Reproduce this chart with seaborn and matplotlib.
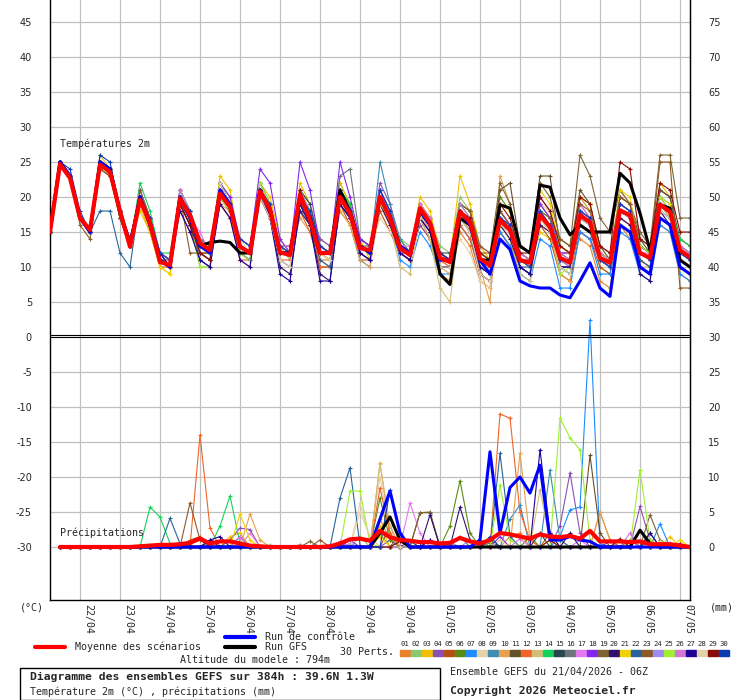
import matplotlib
matplotlib.use("Agg")
import matplotlib.pyplot as plt
from matplotlib.patches import Rectangle
from matplotlib.lines import Line2D
import matplotlib.transforms as mtransforms
import pandas as pd
import seaborn as sns

# 6-hourly steps from 21/04/2026 06Z up to +384h
steps = list(range(65))
p_steps = list(range(1, 65))
day_steps = [3, 7, 11, 15, 19, 23, 27, 31, 35, 39, 43, 47, 51, 55, 59, 63]
day_labels = ["22/04", "23/04", "24/04", "25/04", "26/04", "27/04", "28/04", "29/04",
              "30/04", "01/05", "02/05", "03/05", "04/05", "05/05", "06/05", "07/05"]

member_names = [f"{k:02d}" for k in range(1, 31)]
member_colors = ["#E8822E", "#8CC86E", "#F0C000", "#8C50B4", "#B45014", "#5A8C14",
                 "#1E8CFF", "#E6D2AA", "#3C8CB4", "#E6A050", "#645028", "#F06428",
                 "#D2BE78", "#14D25A", "#284650", "#6E7378", "#E678F0", "#8228F0",
                 "#7D6432", "#32106E", "#F0D200", "#28649B", "#8C5A28", "#A08CF0",
                 "#A0F032", "#D278D2", "#1E0096", "#E1D2AA", "#8C0A0A", "#0A3CB4"]

# 2m temperature (degC)
t_mean = [15, 24.7, 22.7, 17, 15.3, 24.6, 23.6, 18, 12.9, 19.6, 16.3, 10.7, 10.3,
          19.8, 17.4, 13.4, 12.4, 20.5, 18.6, 12.9, 12, 20.8, 18.2, 12.1, 11.7,
          20.3, 16.7, 12, 12, 20, 17.7, 12.7, 12.4, 20, 17, 12.7, 11.7, 18.4, 16.3,
          11.3, 10.7, 17.9, 16.4, 11.2, 10.2, 16.7, 15.3, 11, 10.6, 17.4, 15.7, 11.3,
          10.6, 17.4, 16.4, 11.3, 10.6, 18.1, 17.4, 12, 11.3, 18.9, 17.9, 12.4, 11.4]
t_control = [15, 25, 23, 17, 15, 25, 24, 18, 13, 20, 16, 11, 10, 20, 17, 13, 12,
             21, 19, 13, 12, 21, 18, 12, 12, 20, 17, 12, 12, 20, 18, 13, 12, 20, 17,
             13, 12, 18, 16, 11, 11, 18, 16, 11, 9, 14, 12.5, 8, 7.3, 7, 7, 6, 5.6,
             8, 10.6, 7, 5.8, 16, 15, 10, 9, 17, 16, 10, 9]
t_gfs = [15, 25, 23, 17, 15, 25, 24, 18, 13, 20, 16, 11, 10, 20, 17, 13, 13.5,
         13.7, 13.5, 12, 12, 21, 18, 12, 12, 20, 17, 12, 12, 21, 18, 13, 12, 20, 17,
         13, 12, 18, 16, 9, 7.5, 17, 16, 11, 11, 18.9, 18.4, 13, 12, 21.7, 21.4, 17,
         14.6, 16, 15, 15, 15, 23.4, 22, 17.7, 12.4, 18.9, 18.4, 11, 10]

t01 = [15, 25, 23, 17, 15, 25, 24, 17, 13, 19, 15, 11, 10, 19, 16, 12, 11, 20, 18, 13, 12,
       20, 17, 11, 10, 19, 16, 11, 11, 18, 16, 12, 11, 19, 16, 12, 11, 16, 14, 9, 8,
       15, 13, 8, 7, 15, 13, 10, 9, 19, 17, 13, 12, 14, 13, 8, 7, 16, 14, 11, 10, 16, 15, 9, 8]
t02 = [15, 25, 23, 17, 15, 24, 23, 17, 13, 21, 17, 12, 11, 19, 16, 10, 10, 22, 20, 12, 12,
       22, 19, 13, 11, 21, 19, 14, 13, 22, 19, 13, 12, 19, 17, 14, 13, 19, 17, 13, 12,
       20, 18, 12, 11, 15, 13, 12, 11, 19, 17, 10, 9, 20, 18, 12, 11, 16, 15, 14, 13, 21, 20, 13, 12]
t03 = [15, 25, 23, 17, 15, 26, 24, 18, 13, 18, 15, 10, 9, 21, 18, 12, 12, 23, 21, 13, 12,
       22, 20, 14, 12, 22, 19, 12, 12, 22, 19, 14, 11, 21, 18, 14, 12, 20, 18, 12, 11,
       23, 19, 13, 11, 18, 16, 11, 10, 15, 14, 12, 11, 18, 17, 10, 9, 21, 19, 13, 12, 22, 20, 13, 12]
t04 = [15, 25, 23, 17, 15, 25, 24, 18, 13, 21, 17, 11, 10, 21, 18, 14, 13, 21, 19, 14, 13,
       22, 19, 13, 13, 21, 18, 14, 13, 19, 17, 14, 13, 22, 19, 13, 12, 16, 14, 11, 11,
       19, 17, 12, 11, 17, 16, 10, 9, 20, 18, 12, 12, 15, 14, 11, 11, 20, 19, 13, 12, 21, 20, 13, 12]
t05 = [15, 25, 23, 17, 15, 24, 23, 17, 13, 20, 16, 11, 11, 18, 15, 12, 12, 19, 17, 13, 12,
       21, 18, 12, 12, 19, 16, 10, 10, 19, 16, 11, 11, 18, 15, 12, 12, 17, 14, 10, 10,
       16, 14, 9, 8, 15, 13, 11, 10, 16, 14, 9, 8, 15, 14, 10, 9, 16, 15, 11, 10, 17, 16, 10, 9]
t06 = [15, 25, 23, 17, 15, 25, 24, 18, 13, 20, 17, 12, 11, 21, 18, 14, 13, 22, 19, 14, 13,
       20, 18, 13, 13, 19, 17, 12, 12, 21, 19, 13, 12, 20, 17, 14, 12, 19, 17, 12, 11,
       17, 16, 12, 11, 20, 18, 13, 12, 17, 16, 13, 12, 18, 17, 12, 11, 19, 18, 14, 13, 18, 17, 13, 12]
t07 = [15, 25, 23, 17, 15, 25, 24, 18, 14, 20, 16, 11, 10, 21, 18, 13, 12, 21, 19, 12, 11,
       21, 18, 11, 10, 18, 17, 13, 12, 21, 18, 11, 10, 21, 17, 11, 10, 15, 13, 9, 9,
       16, 14, 10, 9, 15, 13, 9, 8, 14, 13, 7, 7, 15, 14, 9, 9, 15, 14, 9, 8, 16, 15, 9, 8]
t08 = [15, 25, 23, 17, 15, 25, 24, 18, 13, 19, 16, 11, 10, 20, 17, 13, 12, 19, 17, 13, 12,
       20, 17, 12, 12, 18, 16, 13, 12, 18, 16, 13, 12, 17, 15, 13, 12, 17, 15, 11, 10,
       14, 12, 8, 7, 16, 14, 12, 11, 19, 18, 13, 12, 17, 16, 12, 11, 21, 19, 14, 13, 18, 17, 12, 12]
t09 = [15, 25, 23, 17, 15, 25, 24, 18, 13, 21, 17, 12, 10, 19, 17, 13, 12, 21, 19, 13, 12,
       20, 17, 12, 12, 20, 17, 12, 11, 21, 18, 13, 12, 25, 19, 14, 12, 18, 16, 12, 11,
       18, 16, 10, 9, 17, 16, 10, 9, 17, 15, 11, 10, 18, 16, 11, 10, 18, 17, 12, 11, 19, 17, 11, 10]
t10 = [15, 25, 23, 17, 15, 25, 24, 18, 13, 19, 15, 11, 10, 20, 17, 12, 11, 19, 18, 11, 10,
       20, 17, 12, 12, 17, 15, 11, 10, 18, 16, 11, 10, 19, 17, 12, 11, 18, 15, 10, 9,
       18, 15, 10, 5, 23, 19, 12, 11, 16, 15, 9, 8, 20, 18, 12, 11, 16, 15, 11, 10, 17, 16, 10, 9]
t11 = [15, 25, 23, 17, 15, 25, 24, 18, 14, 20, 17, 12, 11, 21, 18, 14, 13, 21, 19, 13, 12,
       22, 19, 13, 12, 20, 18, 13, 12, 20, 18, 13, 13, 21, 18, 13, 12, 19, 17, 12, 11,
       19, 18, 12, 11, 21, 22, 13, 12, 23, 23, 13, 12, 21, 19, 13, 11, 20, 19, 14, 12, 21, 20, 14, 13]
t12 = [15, 25, 23, 17, 15, 25, 23, 17, 13, 19, 15, 10, 10, 19, 16, 12, 11, 19, 17, 11, 11,
       20, 17, 11, 11, 18, 15, 10, 10, 20, 17, 13, 12, 19, 16, 12, 11, 18, 16, 11, 10,
       16, 14, 10, 9, 17, 15, 11, 10, 18, 16, 10, 10, 16, 15, 11, 10, 17, 16, 12, 11, 19, 17, 11, 10]
t13 = [15, 25, 23, 17, 15, 25, 24, 17, 13, 20, 16, 11, 10, 20, 17, 13, 12, 22, 20, 13, 12,
       21, 18, 12, 12, 21, 18, 13, 12, 20, 17, 12, 11, 19, 16, 10, 9, 17, 14, 7, 5,
       17, 15, 10, 9, 16, 14, 9, 8, 17, 15, 10, 9, 17, 16, 12, 11, 18, 17, 10, 10, 19, 17, 11, 10]
t14 = [15, 25, 23, 17, 15, 25, 24, 18, 13, 22, 18, 12, 12, 20, 17, 13, 12, 21, 19, 13, 12,
       20, 18, 13, 12, 20, 17, 13, 12, 21, 19, 13, 12, 20, 17, 13, 12, 18, 16, 12, 11,
       18, 16, 12, 11, 17, 16, 13, 12, 18, 17, 11, 11, 17, 16, 12, 11, 19, 18, 13, 12, 20, 19, 14, 13]
t15 = [15, 25, 23, 17, 15, 25, 24, 18, 13, 20, 16, 11, 10, 19, 16, 13, 12, 21, 19, 13, 12,
       21, 18, 13, 12, 21, 19, 13, 12, 20, 18, 14, 13, 20, 17, 13, 12, 17, 16, 12, 12,
       17, 16, 11, 10, 17, 15, 11, 11, 17, 16, 12, 11, 18, 17, 12, 11, 18, 17, 12, 11, 19, 18, 12, 11]
t16 = [15, 25, 23, 17, 15, 25, 24, 18, 13, 20, 16, 11, 10, 20, 17, 13, 12, 20, 18, 13, 12,
       22, 19, 12, 12, 20, 17, 12, 12, 23, 24, 14, 13, 20, 17, 13, 12, 18, 16, 11, 11,
       18, 16, 11, 10, 18, 16, 12, 11, 17, 16, 11, 11, 19, 17, 12, 11, 18, 17, 13, 12, 19, 18, 13, 12]
t17 = [15, 25, 23, 17, 15, 25, 24, 18, 13, 21, 17, 12, 11, 20, 17, 15, 12, 21, 18, 13, 12,
       21, 19, 13, 13, 20, 17, 12, 12, 20, 18, 13, 12, 21, 18, 13, 13, 19, 17, 12, 11,
       18, 16, 13, 12, 17, 15, 12, 11, 17, 16, 11, 11, 19, 17, 12, 11, 18, 17, 12, 12, 19, 18, 13, 12]
t18 = [15, 25, 23, 17, 15, 25, 24, 18, 13, 20, 17, 12, 11, 21, 18, 13, 12, 22, 20, 14, 13,
       24, 22, 14, 12, 25, 21, 13, 12, 25, 20, 14, 13, 21, 18, 13, 12, 19, 16, 12, 11,
       18, 16, 11, 11, 18, 16, 12, 11, 19, 17, 12, 12, 18, 17, 12, 11, 19, 18, 13, 12, 20, 18, 12, 11]
t19 = [15, 25, 23, 17, 15, 25, 24, 17, 13, 20, 16, 11, 10, 20, 17, 13, 12, 21, 19, 13, 12,
       21, 18, 12, 12, 20, 17, 12, 11, 20, 18, 13, 12, 20, 17, 12, 11, 19, 17, 12, 11,
       19, 18, 13, 12, 22, 19, 13, 12, 22, 20, 14, 13, 26, 23, 17, 15, 21, 19, 15, 13, 26, 26, 17, 17]
t20 = [15, 25, 23, 17, 15, 25, 24, 17, 13, 20, 16, 11, 10, 19, 16, 11, 10, 20, 18, 12, 11,
       20, 17, 10, 9, 18, 16, 9, 8, 19, 17, 12, 11, 19, 16, 12, 11, 17, 15, 10, 10,
       17, 15, 9, 8, 16, 14, 10, 9, 16, 15, 10, 10, 17, 16, 11, 10, 17, 16, 9, 8, 18, 16, 10, 9]
t21 = [15, 25, 23, 17, 15, 25, 24, 18, 13, 19, 15, 10, 9, 21, 18, 13, 12, 21, 19, 13, 12,
       21, 18, 12, 12, 21, 18, 12, 11, 20, 18, 13, 12, 20, 17, 13, 12, 19, 17, 11, 11,
       19, 17, 12, 11, 19, 18, 12, 11, 21, 19, 13, 12, 20, 19, 12, 11, 21, 20, 12, 11, 20, 19, 11, 10]
t22 = [15, 25, 23, 17, 15, 18, 18, 12, 10, 20, 16, 11, 10, 20, 17, 12, 11, 22, 19, 13, 12,
       21, 18, 12, 12, 19, 16, 11, 10, 20, 17, 13, 12, 20, 17, 13, 12, 18, 16, 12, 11,
       18, 16, 10, 9, 17, 15, 10, 10, 17, 16, 10, 9, 16, 15, 11, 10, 18, 17, 11, 10, 18, 17, 12, 11]
t23 = [15, 25, 23, 16, 14, 24, 23, 17, 13, 21, 17, 12, 10, 20, 12, 12, 12, 20, 18, 13, 12,
       21, 18, 12, 12, 20, 17, 12, 12, 20, 17, 13, 12, 20, 17, 13, 12, 18, 16, 12, 11,
       19, 18, 12, 12, 18, 16, 12, 11, 18, 17, 14, 13, 19, 18, 13, 12, 20, 19, 13, 12, 25, 25, 7, 7]
t24 = [15, 25, 23, 17, 15, 25, 24, 18, 13, 20, 16, 11, 10, 21, 18, 13, 12, 21, 19, 14, 13,
       22, 19, 13, 12, 21, 18, 13, 12, 21, 18, 13, 12, 20, 17, 13, 12, 18, 16, 11, 11,
       19, 17, 12, 11, 17, 16, 12, 11, 18, 16, 11, 10, 18, 17, 11, 11, 18, 17, 12, 11, 20, 18, 12, 12]
t25 = [15, 25, 23, 17, 15, 25, 24, 18, 13, 20, 16, 11, 10, 20, 17, 10, 10, 20, 18, 12, 11,
       22, 19, 12, 12, 20, 17, 12, 12, 20, 18, 13, 12, 19, 17, 13, 12, 18, 16, 12, 11,
       18, 16, 12, 11, 16, 15, 11, 10, 17, 16, 9, 10, 17, 16, 12, 11, 18, 17, 13, 12, 20, 18, 12, 11]
t26 = [15, 25, 23, 17, 15, 25, 24, 18, 13, 20, 17, 12, 11, 21, 17, 14, 12, 21, 19, 14, 13,
       21, 18, 13, 13, 20, 18, 12, 12, 21, 18, 13, 12, 20, 18, 12, 12, 19, 17, 12, 11,
       18, 16, 11, 11, 17, 16, 12, 11, 17, 16, 12, 11, 18, 17, 12, 11, 19, 18, 12, 11, 19, 18, 12, 11]
t27 = [15, 25, 23, 17, 15, 25, 24, 18, 14, 20, 16, 12, 10, 18, 15, 11, 10, 19, 17, 11, 10,
       21, 17, 9, 8, 19, 16, 8, 8, 19, 17, 12, 11, 20, 17, 12, 11, 17, 15, 10, 10,
       18, 16, 10, 9, 16, 15, 10, 9, 17, 16, 10, 10, 17, 16, 11, 10, 18, 17, 10, 9, 19, 18, 11, 10]
t28 = [15, 25, 23, 17, 15, 25, 24, 18, 13, 20, 16, 11, 10, 20, 17, 13, 12, 22, 19, 14, 12,
       20, 17, 11, 10, 20, 17, 12, 11, 20, 18, 13, 12, 20, 17, 13, 12, 17, 16, 10, 10,
       17, 15, 9, 8, 16, 15, 11, 10, 17, 15, 10, 9, 17, 16, 11, 10, 18, 17, 12, 11, 18, 17, 11, 10]
t29 = [15, 25, 23, 17, 15, 25, 24, 18, 13, 20, 16, 11, 10, 19, 16, 12, 11, 21, 19, 13, 12,
       21, 18, 12, 12, 21, 17, 12, 12, 20, 18, 13, 12, 20, 17, 13, 12, 18, 16, 12, 11,
       18, 17, 12, 11, 19, 17, 12, 12, 20, 18, 13, 12, 20, 19, 13, 12, 25, 24, 14, 13, 22, 21, 15, 15]
t30 = [15, 25, 24, 18, 15, 26, 25, 18, 14, 20, 17, 12, 11, 20, 18, 13, 12, 21, 19, 14, 13,
       21, 19, 13, 12, 20, 18, 13, 12, 21, 18, 13, 12, 21, 18, 13, 12, 18, 16, 12, 11,
       18, 16, 11, 11, 17, 16, 11, 10, 18, 16, 11, 11, 18, 17, 11, 10, 19, 18, 12, 11, 19, 18, 12, 11]
t_members = [t01, t02, t03, t04, t05, t06, t07, t08, t09, t10, t11, t12, t13, t14, t15,
             t16, t17, t18, t19, t20, t21, t22, t23, t24, t25, t26, t27, t28, t29, t30]

# 6h precipitation (mm), steps 1..64; members given as {step: mm}, other steps dry
p_mean = [0, 0, 0, 0, 0, 0, 0, 0, 0.1, 0.2, 0.3, 0.3, 0.4, 0.6, 1.2, 0.5, 0.8, 0.8,
          0.5, 0.2, 0.1, 0, 0, 0, 0, 0, 0, 0.1, 0.5, 1.1, 1.2, 0.9, 2.3, 1.4, 1.0, 0.9,
          0.7, 0.7, 0.5, 0.6, 1.3, 0.8, 0.5, 1.0, 2.0, 1.8, 1.5, 1.2, 1.8, 1.5, 1.4,
          1.6, 1.2, 2.3, 0.8, 0.8, 0.8, 0.7, 0.8, 0.4, 0.4, 0.4, 0.2, 0]
p_control = {33: 4, 34: 8, 35: 2, 43: 1, 44: 13.6, 45: 2, 46: 8.5, 47: 10, 48: 7.7,
             49: 11.7, 50: 1, 51: 1, 52: 1.5, 53: 1, 54: 0.8}
p_gfs = {33: 2, 34: 4.3, 35: 1, 59: 2.4, 60: 0.5}
p01 = {14: 0.5, 15: 1, 33: 4, 34: 1, 46: 1.5, 47: 2, 55: 5, 56: 1}
p02 = {22: 0.3, 31: 1.5, 33: 2, 40: 0.5, 44: 1, 58: 1}
p03 = {18: 1.5, 19: 2, 33: 3, 44: 1, 62: 1.5}
p04 = {18: 1, 19: 2.7, 20: 2.5, 34: 1, 51: 3, 52: 10.6, 53: 2, 59: 5.8, 60: 1}
p05 = {14: 1, 15: 1.5, 25: 0.3, 34: 3, 50: 2, 51: 1}
p06 = {33: 7, 34: 1, 40: 3, 41: 9.5, 42: 2, 48: 1.5}
p07 = {51: 1.5, 52: 5.3, 53: 5.7, 54: 32.4, 55: 0.5, 61: 3.3}
p08 = {31: 6.3, 32: 1, 33: 10, 34: 2, 45: 1}
p09 = {35: 1, 46: 4, 47: 6, 50: 11, 51: 1}
p10 = {20: 4.7, 21: 1, 33: 12, 34: 2, 47: 13.4, 48: 1, 55: 5, 56: 1}
p11 = {37: 4.9, 38: 4.9, 54: 13.1, 55: 2, 60: 1}
p12 = {15: 16, 16: 2.7, 33: 8.4, 34: 2, 45: 19, 46: 18.4, 47: 5, 48: 1}
p13 = {33: 11.9, 34: 3, 49: 8.2, 50: 1}
p14 = {10: 5.7, 11: 4.3, 12: 0.5, 17: 3, 18: 7.3, 19: 0.5, 43: 1}
p15 = {36: 0.8, 39: 0.5, 44: 1, 49: 2}
p16 = {10: 0.3, 41: 1.5, 44: 0.6, 58: 1}
p17 = {20: 2, 29: 0.8, 36: 6.3, 37: 2, 53: 1}
p18 = {19: 1.5, 30: 1, 38: 1, 45: 1.5, 56: 0.8}
p19 = {26: 0.8, 37: 4.9, 38: 5, 60: 4.6, 61: 1}
p20 = {16: 1, 38: 4.6, 41: 5.7, 42: 1, 52: 2}
p21 = {19: 4.7, 20: 1, 33: 1.5, 50: 1, 57: 0.8, 63: 1}
p22 = {12: 4.1, 13: 0.5, 29: 7, 30: 11.3, 31: 0.2, 45: 13.4, 46: 1.5}
p23 = {14: 6.3, 15: 1, 27: 1, 35: 2, 60: 2}
p24 = {30: 0.5, 40: 0.7, 42: 1, 57: 1, 62: 0.6}
p25 = {30: 8, 31: 8, 32: 0.5, 45: 8.9, 46: 1, 51: 18.4, 52: 15.6, 53: 13.9, 54: 1,
       59: 11, 60: 1}
p26 = {19: 1.5, 47: 1.2, 58: 2}
p27 = {16: 1, 17: 1.5, 38: 1, 49: 13.9, 50: 2, 60: 2}
p28 = {31: 5, 32: 1.5, 39: 0.6, 45: 1, 61: 0.8}
p29 = {35: 0.8, 50: 1, 57: 1.2, 63: 0.5}
p30 = {34: 8.1, 35: 2, 44: 1.5}
p_members = [p01, p02, p03, p04, p05, p06, p07, p08, p09, p10, p11, p12, p13, p14, p15,
             p16, p17, p18, p19, p20, p21, p22, p23, p24, p25, p26, p27, p28, p29, p30]

PRECIP_BASE = 30  # 0 mm is drawn at -30 on the temperature scale

for tv in t_members + [t_mean, t_control, t_gfs]:
    assert len(tv) == len(steps)


def expand(d):
    return [d.get(s, 0) for s in p_steps]


sns.set_style("white")
plt.rcParams["font.family"] = ["DejaVu Sans Mono", "DejaVu Sans"]
plt.rcParams["axes.unicode_minus"] = False

W, H = 740, 700
fig = plt.figure(figsize=(W / 100, H / 100), dpi=100)
ax = fig.add_axes([50 / W, 100 / H, 640 / W, 600 / H])

grid_c = "#C0C0C0"
for v in range(-30, 50, 5):
    if v != 0:
        ax.axhline(v, color=grid_c, lw=0.9, zorder=0)
for s in day_steps:
    ax.axvline(s, color=grid_c, lw=0.9, zorder=0)

# ensemble members
for name, col, tv, pv in zip(member_names, member_colors, t_members, p_members):
    df = pd.DataFrame({"step": steps, "t": tv})
    sns.lineplot(data=df, x="step", y="t", color=col, lw=0.8, marker="+", ms=3.5,
                 mec=col, mew=0.8, estimator=None, ax=ax, zorder=2)
    dp = pd.DataFrame({"step": p_steps, "p": [v - PRECIP_BASE for v in expand(pv)]})
    sns.lineplot(data=dp, x="step", y="p", color=col, lw=0.8, marker="+", ms=3.5,
                 mec=col, mew=0.8, estimator=None, ax=ax, zorder=2)

# GFS run, control run, ensemble mean
for tv, pv, col, lw, z in [(t_gfs, expand(p_gfs), "black", 2.2, 3),
                           (t_control, expand(p_control), "#0000FF", 2.2, 4),
                           (t_mean, p_mean, "#FF0000", 3.0, 5)]:
    sns.lineplot(x=steps, y=tv, color=col, lw=lw, estimator=None, ax=ax, zorder=z)
    sns.lineplot(x=p_steps, y=[v - PRECIP_BASE for v in pv], color=col, lw=lw,
                 estimator=None, ax=ax, zorder=z)

# double separator between the two panels
ax.axhline(0, color="black", lw=0.8, zorder=6)
ax.axhline(0.3, color="black", lw=0.8, zorder=6)

ax.set_xlim(0, 64)
ax.set_ylim(-263 / 7, 337 / 7)
ax.set_xticks([])
ax.set_yticks(range(-30, 50, 5))
ax.set_yticklabels([str(v) for v in range(-30, 50, 5)], family="DejaVu Sans", fontsize=7)
ax.tick_params(axis="y", length=0, pad=13)
ax.set_xlabel("")
ax.set_ylabel("")
ax.spines["top"].set_visible(False)
for sp in ["left", "right", "bottom"]:
    ax.spines[sp].set_color("black")
    ax.spines[sp].set_linewidth(1.0)

sec = ax.secondary_yaxis("right", functions=(lambda y: y + 30, lambda y: y - 30))
sec.set_yticks(range(0, 80, 5))
sec.set_yticklabels([str(v) for v in range(0, 80, 5)], family="DejaVu Sans", fontsize=7)
sec.tick_params(length=0, pad=13)
sec.spines["right"].set_color("black")

trans = mtransforms.blended_transform_factory(ax.transData, ax.transAxes)
for s, lab in zip(day_steps, day_labels):
    ax.text(s + 0.8, -0.006, lab, transform=trans, rotation=-90, ha="center", va="top",
            fontsize=7.2)

ax.text(1, (337 - 144) / 7, "Températures 2m", fontsize=7.2, va="center", ha="left")
ax.text(1, (337 - 533) / 7, "Précipitations", fontsize=7.2, va="center", ha="left")


def fx(x):
    return x / W


def fy(y):
    return 1 - y / H


fs = 7.2
fig.text(fx(20), fy(607), "(°C)", fontsize=fs, va="center")
fig.text(fx(710), fy(607), "(mm)", fontsize=fs, va="center")

fig.add_artist(Line2D([fx(35), fx(65)], [fy(647)] * 2, color="#FF0000", lw=3))
fig.text(fx(75), fy(647), "Moyenne des scénarios", fontsize=fs, va="center")
fig.add_artist(Line2D([fx(225), fx(255)], [fy(637)] * 2, color="#0000FF", lw=3))
fig.text(fx(265), fy(637), "Run de contrôle", fontsize=fs, va="center")
fig.add_artist(Line2D([fx(225), fx(255)], [fy(647)] * 2, color="black", lw=3))
fig.text(fx(265), fy(647), "Run GFS", fontsize=fs, va="center")
fig.text(fx(340), fy(652), "30 Perts.", fontsize=fs, va="center")

for k, (name, col) in enumerate(zip(member_names, member_colors)):
    x0 = 400 + 11 * k
    fig.add_artist(Rectangle((fx(x0), fy(656)), 10 / W, 6 / H, color=col,
                             transform=fig.transFigure))
    fig.text(fx(x0 + 5), fy(644), name, fontsize=5.2, ha="center", va="center")

fig.text(fx(180), fy(660), "Altitude du modele : 794m", fontsize=fs, va="center")
fig.add_artist(Rectangle((fx(20), fy(699.5)), 420 / W, 31.5 / H, fill=False,
                         edgecolor="black", lw=1, transform=fig.transFigure))
fig.text(fx(30), fy(677), "Diagramme des ensembles GEFS sur 384h : 39.6N 1.3W",
         fontsize=8.2, fontweight="bold", va="center")
fig.text(fx(30), fy(692), "Température 2m (°C) , précipitations (mm)", fontsize=fs,
         va="center")
fig.text(fx(450), fy(672), "Ensemble GEFS du 21/04/2026 - 06Z", fontsize=fs, va="center")
fig.text(fx(450), fy(691), "Copyright 2026 Meteociel.fr", fontsize=8.2,
         fontweight="bold", va="center")

fig.savefig("out.png", dpi=100, facecolor="white")
